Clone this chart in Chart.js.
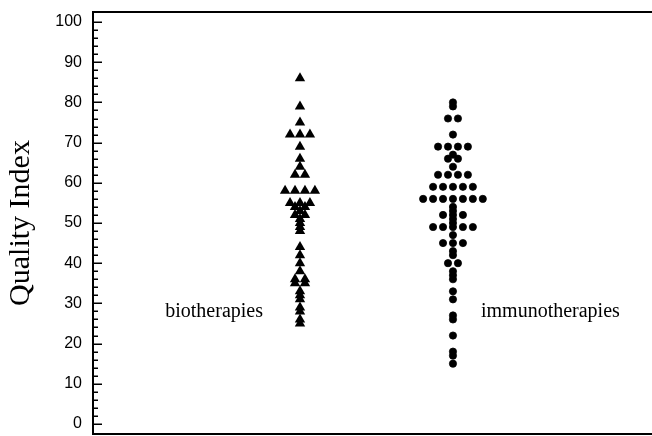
<!DOCTYPE html>
<html>
<head>
<meta charset="utf-8">
<script src="https://cdn.jsdelivr.net/npm/chart.js@4"></script>
<style>
  html, body { margin: 0; padding: 0; background: #fff; overflow: hidden; }
  canvas { display: block; }
</style>
</head>
<body>
<canvas id="chart" width="652" height="436"></canvas>
<script>
// Group names and their positions on the hidden x axis
const groups = ['biotherapies', 'immunotherapies'];
const groupPos = [1, 2];

// Quality Index values
const bioValues = [86, 79, 75, 72, 72, 72, 69, 66, 64, 62, 62, 58, 58, 58, 58, 55, 55, 55,
  54, 54, 53, 52, 52, 51, 50, 49, 48, 44, 42, 40, 38, 36, 36, 35, 35, 33, 32, 31, 29, 28, 26, 25];
const immunoValues = [80, 79, 76, 76, 72, 69, 69, 69, 69, 67, 66, 66, 64, 62, 62, 62, 62,
  59, 59, 59, 59, 59, 56, 56, 56, 56, 56, 56, 56, 54, 53, 52, 52, 52, 51, 50, 49, 49, 49, 49, 49,
  47, 45, 45, 45, 43, 42, 40, 40, 38, 37, 36, 33, 31, 27, 26, 22, 18, 17, 15];

// Y axis tick labels
const yTicks = [0, 10, 20, 30, 40, 50, 60, 70, 80, 90, 100];
const labelY = 28;

// Spread equal values side by side around the group centre (column scatter)
function spread(values, center, step) {
  const counts = {};
  values.forEach(v => { counts[v] = (counts[v] || 0) + 1; });
  const seen = {};
  return values.map(v => {
    const i = seen[v] || 0;
    seen[v] = i + 1;
    return { x: center + (i - (counts[v] - 1) / 2) * step, y: v };
  });
}

const serif = '"Liberation Serif", "Times New Roman", serif';
const sans = '"Liberation Sans", Arial, sans-serif';

// Frame, inward ticks and group labels
const decor = {
  id: 'decor',
  afterDatasetsDraw(chart) {
    const { ctx, chartArea: a, scales } = chart;
    const y = scales.y, x = scales.x;
    ctx.save();
    ctx.strokeStyle = '#000';
    ctx.lineWidth = 2;
    ctx.beginPath();
    ctx.moveTo(a.right + 2, a.top);
    ctx.lineTo(a.left, a.top);
    ctx.lineTo(a.left, a.bottom);
    ctx.lineTo(a.right + 2, a.bottom);
    ctx.stroke();

    ctx.lineWidth = 1.5;
    ctx.beginPath();
    for (let v = 0; v <= 100; v += 2) {
      const py = Math.round(y.getPixelForValue(v)) + 0.25;
      const len = v % 10 === 0 ? 9 : 5;
      ctx.moveTo(a.left, py);
      ctx.lineTo(a.left + len, py);
    }
    ctx.stroke();

    ctx.fillStyle = '#000';
    ctx.font = '20px ' + serif;
    ctx.textBaseline = 'middle';
    const ly = y.getPixelForValue(labelY);
    ctx.textAlign = 'right';
    ctx.fillText(groups[0], x.getPixelForValue(groupPos[0]) - 37, ly);
    ctx.textAlign = 'left';
    ctx.fillText(groups[1], x.getPixelForValue(groupPos[1]) + 28, ly);
    ctx.restore();
  }
};

new Chart(document.getElementById('chart'), {
  type: 'scatter',
  data: {
    datasets: [
      {
        label: groups[0],
        data: spread(bioValues, groupPos[0], 0.065),
        pointStyle: 'triangle',
        pointRadius: 6,
        borderWidth: 0,
        backgroundColor: '#000',
        borderColor: '#000'
      },
      {
        label: groups[1],
        data: spread(immunoValues, groupPos[1], 0.065),
        pointStyle: 'circle',
        pointRadius: 3.6,
        borderWidth: 0.8,
        backgroundColor: '#000',
        borderColor: '#000'
      }
    ]
  },
  options: {
    responsive: false,
    animation: false,
    layout: { autoPadding: false, padding: { top: 12, bottom: 2, left: 0, right: 0 } },
    plugins: { legend: { display: false }, tooltip: { enabled: false } },
    scales: {
      x: {
        type: 'linear',
        display: false,
        min: -0.353,
        max: 3.301
      },
      y: {
        min: -2.5,
        max: 102.5,
        afterBuildTicks: axis => { axis.ticks = yTicks.map(v => ({ value: v })); },
        afterFit: axis => {
          axis.width = 93;
          axis.paddingTop = 0;
          axis.paddingBottom = 0;
        },
        grid: { display: false, drawTicks: false },
        border: { display: false },
        ticks: {
          color: '#000',
          padding: 11,
          font: { family: sans, size: 16 }
        },
        title: {
          display: true,
          text: 'Quality Index',
          color: '#000',
          padding: { top: 3, bottom: 1 },
          font: { family: serif, size: 30 }
        }
      }
    }
  },
  plugins: [decor]
});
</script>
</body>
</html>
